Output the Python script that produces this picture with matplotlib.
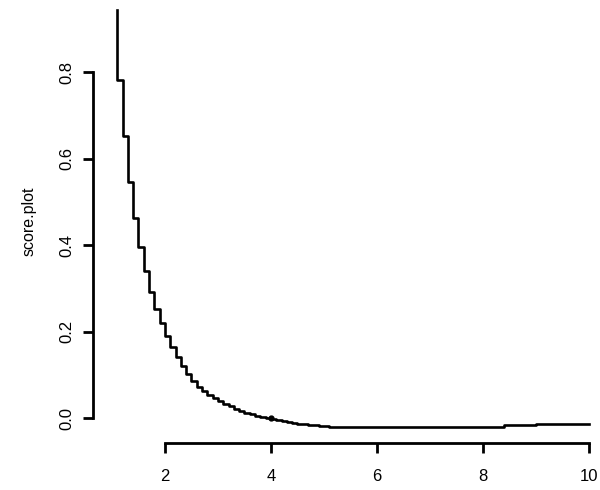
import numpy as np
import matplotlib.pyplot as plt

# score as a step curve over x
x_vals = [1.1, 1.2, 1.3, 1.4, 1.5, 1.6, 1.7, 1.8, 1.9, 2.0,
          2.1, 2.2, 2.3, 2.4, 2.5, 2.6, 2.7, 2.8, 2.9, 3.0,
          3.1, 3.2, 3.3, 3.4, 3.5, 3.6, 3.7, 3.8, 3.9, 4.0,
          4.1, 4.2, 4.3, 4.4, 4.5, 4.6, 4.7, 4.8, 4.9, 5.0,
          5.1, 5.2, 5.3, 5.4, 5.5, 6.0, 7.0, 8.0, 8.4, 8.5,
          9.0, 10.0]
score = [0.943, 0.781, 0.652, 0.546, 0.462, 0.395, 0.340, 0.291, 0.252, 0.220,
         0.190, 0.164, 0.141, 0.120, 0.102, 0.086, 0.072, 0.062, 0.053, 0.046,
         0.039, 0.032, 0.028, 0.021, 0.016, 0.012, 0.009, 0.005, 0.002, 0.000,
         -0.002, -0.004, -0.007, -0.009, -0.011, -0.013, -0.015, -0.016, -0.017, -0.018,
         -0.019, -0.020, -0.020, -0.021, -0.021, -0.021, -0.021, -0.021, -0.021, -0.017,
         -0.016, -0.015]

# marked point where the score crosses zero
mark_x = [4.0]
mark_y = [0.0]

x_ticks = [2, 4, 6, 8, 10]
y_ticks = [0.0, 0.2, 0.4, 0.6, 0.8]

plt.rcParams['font.family'] = ['Liberation Sans', 'DejaVu Sans']

W, H = 600, 490
fig = plt.figure(figsize=(W / 100, H / 100), dpi=100)
# axes box in pixels: left 93, right 600, top 0, bottom 443
ax = fig.add_axes([93 / W, 1 - 443 / H, (600 - 93) / W, 443 / H])

ax.plot(x_vals, score, drawstyle='steps-pre', color='black', lw=1.9)
ax.plot(mark_x, mark_y, 'o', color='black', ms=3.5)

ax.set_xlim(0.642, 10.208)
ax.set_ylim(-0.0578, 0.9665)

for s in ['top', 'right']:
    ax.spines[s].set_visible(False)
ax.spines['left'].set_bounds(0.0, 0.8)
ax.spines['bottom'].set_bounds(2, 10)
ax.spines['left'].set_linewidth(2.0)
ax.spines['bottom'].set_linewidth(2.0)

ax.set_xticks(x_ticks)
ax.set_xticklabels([str(t) for t in x_ticks])
ax.set_yticks(y_ticks)
ax.set_yticklabels(['%.1f' % t for t in y_ticks], rotation=90, va='center')
ax.tick_params(axis='both', length=7.5, width=2.0, labelsize=12, color='black')
ax.tick_params(axis='x', pad=11)
ax.tick_params(axis='y', pad=6)

ax.set_ylabel('score.plot', fontsize=11.5, labelpad=16)

fig.savefig('out.png', dpi=100)
